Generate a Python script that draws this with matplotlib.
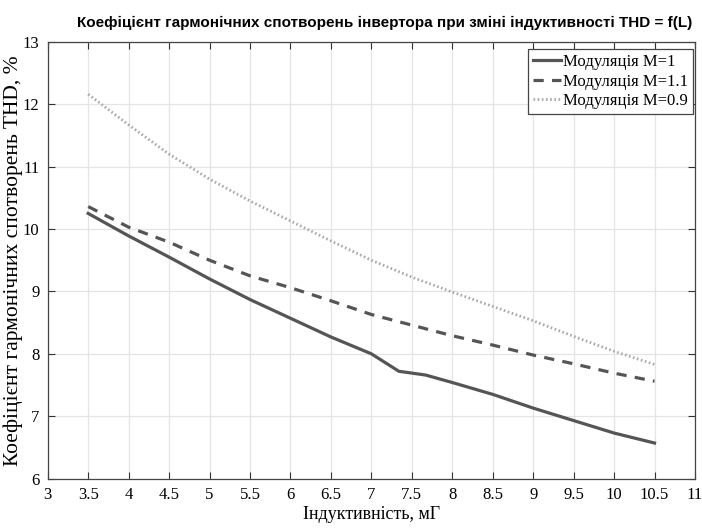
import matplotlib
matplotlib.use("Agg")
import matplotlib.pyplot as plt
from matplotlib import font_manager

# inductance, mH
L_m1 = [3.5, 4.0, 4.5, 5.0, 5.5, 6.0, 6.5, 7.0, 7.34, 7.67, 8.0, 8.5, 9.0, 9.5, 10.0, 10.5]
thd_m1 = [10.25, 9.89, 9.55, 9.20, 8.87, 8.57, 8.27, 8.00, 7.72, 7.66, 7.54, 7.35, 7.13, 6.93, 6.73, 6.57]

L_grid = [3.5, 4.0, 4.5, 5.0, 5.5, 6.0, 6.5, 7.0, 7.5, 8.0, 8.5, 9.0, 9.5, 10.0, 10.5]
thd_m11 = [10.36, 10.03, 9.79, 9.50, 9.25, 9.06, 8.85, 8.63, 8.46, 8.29, 8.14, 7.98, 7.84, 7.69, 7.56]
thd_m09 = [12.16, 11.67, 11.20, 10.80, 10.45, 10.13, 9.81, 9.50, 9.23, 8.99, 8.76, 8.53, 8.28, 8.04, 7.83]

x_ticks = [3, 3.5, 4, 4.5, 5, 5.5, 6, 6.5, 7, 7.5, 8, 8.5, 9, 9.5, 10, 10.5, 11]
y_ticks = [6, 7, 8, 9, 10, 11, 12, 13]

names = {f.name for f in font_manager.fontManager.ttflist}
title_font = "Liberation Sans Narrow" if "Liberation Sans Narrow" in names else "Liberation Sans"
serif = "Liberation Serif"

fig = plt.figure(figsize=(7.02, 5.30), dpi=100)
ax = fig.add_axes([0.068, 0.097, 0.922, 0.824])

ax.plot(L_m1, thd_m1, color="#555555", lw=2.3, ls="-", label="Модуляція M=1")
ax.plot(L_grid, thd_m11, color="#555555", lw=2.3, ls=(0, (3.2, 2.6)), label="Модуляція M=1.1")
ax.plot(L_grid, thd_m09, color="#aaaaaa", lw=2.0, ls=(0, (0.6, 0.9)), label="Модуляція M=0.9")

ax.set_xlim(3, 11)
ax.set_ylim(6, 13)
ax.set_xticks(x_ticks)
ax.set_xticklabels([f"{v:g}" for v in x_ticks])
ax.set_yticks(y_ticks)
ax.grid(True, color="#e4e4e4", lw=0.9)
ax.set_axisbelow(True)
ax.tick_params(direction="in", top=True, right=True, length=5, color="#333333",
               labelsize=12, pad=6)
for lab in ax.get_xticklabels() + ax.get_yticklabels():
    lab.set_family(serif)
for s in ax.spines.values():
    s.set_color("#444444")
    s.set_linewidth(0.9)

ax.set_xlabel("Індуктивність, мГ", family=serif, fontsize=13, labelpad=2)
ax.set_ylabel("Коефіцієнт гармонічних спотворень THD, %", family=serif, fontsize=15.5, labelpad=0)
ax.set_title("Коефіцієнт гармонічних спотворень інвертора при зміні індуктивності THD = f(L)",
             family=title_font, fontweight="bold", fontsize=11, pad=11, x=0.52)

leg = ax.legend(loc="upper right", bbox_to_anchor=(0.997, 0.983), borderaxespad=0,
                prop={"family": serif, "size": 12},
                fancybox=False, edgecolor="#444444", framealpha=1,
                handlelength=1.7, handletextpad=0.1, borderpad=0.3, labelspacing=0.2)
leg.get_frame().set_linewidth(0.9)

fig.savefig("out.png", dpi=100)
